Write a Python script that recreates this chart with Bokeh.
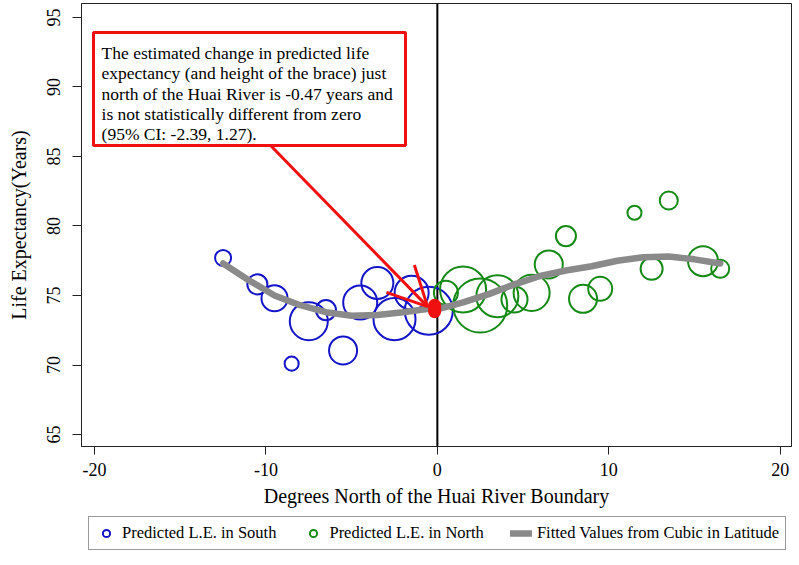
from bokeh.plotting import figure
from bokeh.layouts import column
from bokeh.models import (Range1d, Span, BoxAnnotation, Label, Arrow, OpenHead,
                          Legend, LegendItem, ColumnDataSource)
from bokeh.embed import file_html
from bokeh.resources import INLINE
import numpy as np

# ---------------- data ----------------
south_lat = [-12.5, -10.5, -9.5, -8.5, -7.5, -6.5, -5.5, -4.5, -3.5, -2.5, -1.5, -0.5]
south_le = [77.7, 75.8, 74.8, 70.1, 73.15, 73.95, 71.05, 74.5, 75.9, 73.3, 75.2, 73.9]
south_pop = [4.0, 6.3, 10.6, 3.1, 22.6, 6.3, 12.3, 18.1, 16.0, 27.6, 18.1, 36.0]

north_lat = [0.5, 1.5, 2.5, 3.5, 4.5, 5.5, 6.5, 7.5, 8.5, 9.5, 11.5, 12.5, 13.5, 15.5, 16.5]
north_le = [75.2, 75.43, 74.28, 74.95, 74.71, 75.19, 77.23, 79.27, 74.76, 75.48, 80.95, 76.92, 81.83, 77.47, 76.92]
north_pop = [9.0, 33.1, 45.6, 27.6, 10.6, 20.3, 12.3, 6.3, 12.3, 9.0, 3.1, 7.6, 5.1, 14.1, 5.1]

fit_lat = [-12.5, -11, -9.5, -8, -6.5, -5, -3.5, -2, -0.5, 0, 1.5, 3, 4.5, 6, 7.5, 9, 10.5, 12, 13.5, 15, 16.5]
fit_le = [77.3, 76.1, 75.0, 74.3, 73.8, 73.55, 73.6, 73.8, 74.05, 74.0, 74.5, 75.1, 75.8, 76.4, 76.8, 77.1, 77.5, 77.75, 77.8, 77.6, 77.3]

brace_lat = -0.16
brace_top = 74.30
brace_bottom = 73.83

x_ticks = [-20, -10, 0, 10, 20]
x_tick_labels = ["-20", "-10", "0", "10", "20"]
y_ticks = [65, 70, 75, 80, 85, 90, 95]

series_labels = ["Predicted L.E. in South", "Predicted L.E. in North",
                 "Fitted Values from Cubic in Latitude"]

note_lines = [
    "The estimated change in predicted life",
    "expectancy (and height of the brace) just",
    "north of the Huai River is -0.47 years and",
    "is not statistically different from zero",
    "(95% CI: -2.39, 1.27).",
]

FONT = "Liberation Serif"
BLUE = "#1414c8"
GREEN = "#168a16"
GRAY = "#8a8a8a"
RED = "#f01010"

# ---------------- main figure ----------------
p = figure(width=792, height=514, output_backend="svg", toolbar_location=None,
           x_range=Range1d(-20.76, 20.66), y_range=Range1d(64.14, 96.0),
           min_border_left=81, min_border_right=1, min_border_top=3,
           min_border_bottom=68)
p.background_fill_color = "white"
p.border_fill_color = "white"
p.outline_line_color = "#222222"
p.outline_line_width = 1
p.xgrid.visible = False
p.ygrid.visible = False

for ax in (p.xaxis[0], p.yaxis[0]):
    ax.axis_line_color = "#222222"
    ax.major_tick_line_color = "#222222"
    ax.major_tick_in = 0
    ax.minor_tick_line_color = None
    ax.major_label_text_font = FONT
    ax.major_label_text_font_size = "18px"
    ax.major_label_text_color = "black"
    ax.axis_label_text_font = FONT
    ax.axis_label_text_font_size = "20px"
    ax.axis_label_text_font_style = "normal"
    ax.axis_label_text_color = "black"

p.xaxis.ticker = x_ticks
p.xaxis.major_label_overrides = dict(zip(x_ticks, x_tick_labels))
p.yaxis.ticker = y_ticks
p.xaxis.major_tick_out = 8
p.yaxis.major_tick_out = 9
p.xaxis.major_label_standoff = 8
p.yaxis.major_label_standoff = 12
p.yaxis.major_label_orientation = "vertical"
p.xaxis.axis_label = "Degrees North of the Huai River Boundary"
p.yaxis.axis_label = "Life Expectancy(Years)"
p.xaxis.axis_label_standoff = 6
p.yaxis.axis_label_standoff = 15

# vertical line at the river
p.add_layout(Span(location=0, dimension="height", line_color="black",
                  line_width=2, level="underlay"))

src_s = ColumnDataSource(dict(x=south_lat, y=south_le,
                              s=[8 * np.sqrt(v) for v in south_pop]))
src_n = ColumnDataSource(dict(x=north_lat, y=north_le,
                              s=[8 * np.sqrt(v) for v in north_pop]))

p.scatter("x", "y", size="s", source=src_s, marker="circle",
          fill_color=None, line_color=BLUE, line_width=2)
p.scatter("x", "y", size="s", source=src_n, marker="circle",
          fill_color=None, line_color=GREEN, line_width=2)
p.line(fit_lat, fit_le, line_color=GRAY, line_width=6.5, line_cap="round",
       line_join="round")

# red brace
p.segment(x0=[brace_lat], y0=[brace_bottom], x1=[brace_lat], y1=[brace_top],
          line_color=RED, line_width=13, line_cap="round")

# arrow from note to the brace
p.add_layout(Arrow(end=OpenHead(line_color=RED, line_width=3, size=39),
                   x_start=-9.73, y_start=85.79, x_end=-0.57, y_end=74.2,
                   line_color=RED, line_width=3))

# note box
p.add_layout(BoxAnnotation(left=-20.06, right=-1.86, top=93.92, bottom=85.79,
                           fill_color="white", fill_alpha=1.0,
                           line_color=RED, line_width=3, line_alpha=1.0))
baselines = [92.46, 90.99, 89.52, 88.06, 86.58]
for t, yb in zip(note_lines, baselines):
    p.add_layout(Label(x=-19.59, y=yb, text=t, text_font=FONT,
                       text_font_size="17.5px", text_color="black",
                       text_baseline="alphabetic", text_align="left"))

# ---------------- legend strip ----------------
q = figure(width=792, height=42, output_backend="svg", toolbar_location=None,
           x_range=Range1d(0, 1), y_range=Range1d(0, 1), min_border=0)
q.axis.visible = False
q.xgrid.visible = False
q.ygrid.visible = False
q.outline_line_color = None
q.background_fill_color = "white"
q.border_fill_color = "white"

# legend-only renderers, placed outside the visible range of the strip
ls = q.scatter([5], [5], marker="circle", fill_color=None, line_color=BLUE, line_width=2)
ln = q.scatter([5], [5], marker="circle", fill_color=None, line_color=GREEN, line_width=2)
lf = q.line([5, 6], [5, 5], line_color=GRAY, line_width=6.5, line_cap="round")

legend = Legend(items=[LegendItem(label=series_labels[0], renderers=[ls]),
                       LegendItem(label=series_labels[1], renderers=[ln]),
                       LegendItem(label=series_labels[2], renderers=[lf])],
                orientation="horizontal", location=(7, 6),
                border_line_color="#333333", border_line_width=1,
                background_fill_color="white", background_fill_alpha=1.0,
                padding=6, margin=0, spacing=26, label_standoff=5,
                glyph_width=22, glyph_height=18,
                label_text_font=FONT, label_text_font_size="16.5px",
                label_text_color="black")
q.add_layout(legend)

open("out.html", "w").write(file_html(column(p, q, spacing=0), INLINE))
